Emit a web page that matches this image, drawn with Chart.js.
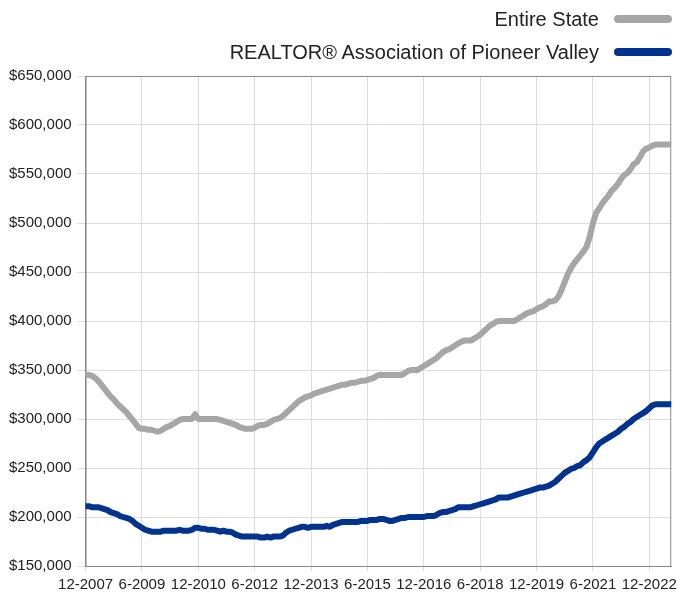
<!DOCTYPE html>
<html>
<head>
<meta charset="utf-8">
<script src="https://cdn.jsdelivr.net/npm/chart.js@4.4.0/dist/chart.umd.min.js"></script>
<style>
  body { margin: 0; background: #fff; }
  #wrap { position: relative; width: 677px; height: 592px; overflow: hidden; }
  #box { position: absolute; left: 0; top: 0; width: 677px; height: 599px; }
  .legend-row {
    position: absolute; right: 5px; height: 24px;
    display: flex; align-items: center;
    font: 20px "Helvetica Neue", Arial, "Liberation Sans", sans-serif; color: #222;
  }
  .legend-row .swatch {
    display: inline-block; width: 58px; height: 8px; border-radius: 4px; margin-left: 15px;
  }
</style>
</head>
<body>
<div id="wrap">
  <div id="box"><canvas id="median_chart"></canvas></div>
  <div class="legend-row" style="top:7px"><span>Entire State</span><span class="swatch" style="background:#a6a6a6"></span></div>
  <div class="legend-row" style="top:40px"><span>REALTOR® Association of Pioneer Valley</span><span class="swatch" style="background:#00338d"></span></div>
</div>
<script>
"use strict";
/* rolling median price chart, values in thousands of dollars, monthly from 12-2007 */

var startMonth = 12;
var startYear = 2007;
var monthCount = 188;

var tickLabels = ["12-2007", "6-2009", "12-2010", "6-2012", "12-2013", "6-2015",
  "12-2016", "6-2018", "12-2019", "6-2021", "12-2022"];

var stateValues = [
  345,
  345, 344, 342, 339, 335, 331, 327, 323, 320, 316, 313, 310, // 2008
  307, 303, 299, 295, 291, 290, 290, 289, 289, 288, 287, 288, // 2009
  290, 292, 293, 295, 297, 299, 300, 300, 300, 300, 305, 300, // 2010
  300, 300, 300, 300, 300, 300, 299, 298, 297, 296, 295, 294, // 2011
  292, 291, 290, 290, 290, 291, 293, 294, 294, 295, 297, 299, // 2012
  300, 301, 303, 306, 309, 312, 315, 318, 320, 322, 323, 324, // 2013
  326, 327, 328, 329, 330, 331, 332, 333, 334, 335, 335, 336, // 2014
  337, 337, 338, 339, 339, 340, 341, 342, 344, 345, 345, 345, // 2015
  345, 345, 345, 345, 345, 347, 349, 350, 350, 350, 352, 354, // 2016
  356, 358, 360, 362, 365, 368, 370, 371, 373, 375, 377, 379, // 2017
  380, 380, 380, 382, 384, 386, 389, 392, 395, 397, 399, 400, // 2018
  400, 400, 400, 400, 400, 402, 404, 406, 408, 409, 410, 412, // 2019
  414, 415, 417, 420, 420, 421, 425, 432, 440, 448, 454, 459, // 2020
  463, 467, 471, 476, 486, 500, 510, 515, 520, 524, 528, 533, // 2021
  536, 540, 545, 549, 551, 555, 560, 562, 567, 573, 576, 577, // 2022
  579, 580, 580, 580, 580, 580, 580                           // 2023
];

var valleyValues = [
  211,
  211, 210, 210, 210, 209, 208, 207, 205, 204, 203, 201, 200, // 2008
  199, 198, 196, 193, 191, 189, 187, 186, 185, 185, 185, 185, // 2009
  186, 186, 186, 186, 186, 187, 186, 186, 186, 187, 189, 189, // 2010
  188, 188, 187, 187, 187, 186, 185, 186, 185, 185, 184, 182, // 2011
  181, 180, 180, 180, 180, 180, 180, 179, 179, 180, 179, 180, // 2012
  180, 180, 181, 184, 186, 187, 188, 189, 190, 190, 189, 190, // 2013
  190, 190, 190, 190, 191, 190, 192, 193, 194, 195, 195, 195, // 2014
  195, 195, 195, 196, 196, 196, 197, 197, 197, 198, 198, 197, // 2015
  196, 196, 197, 198, 199, 199, 200, 200, 200, 200, 200, 200, // 2016
  201, 201, 201, 202, 204, 205, 205, 206, 207, 208, 210, 210, // 2017
  210, 210, 210, 211, 212, 213, 214, 215, 216, 217, 218, 220, // 2018
  220, 220, 220, 221, 222, 223, 224, 225, 226, 227, 228, 229, // 2019
  230, 230, 231, 232, 234, 236, 239, 242, 245, 247, 249, 250, // 2020
  252, 253, 256, 258, 261, 266, 271, 275, 277, 279, 281, 283, // 2021
  285, 287, 290, 292, 295, 297, 300, 302, 304, 306, 308, 311, // 2022
  314, 315, 315, 315, 315, 315, 315                           // 2023
];

var months = [];
for (var i = 0; i < monthCount; i++) {
  var mm = ((startMonth - 1 + i) % 12) + 1;
  var yy = startYear + Math.floor((startMonth - 1 + i) / 12);
  months.push(mm + "-" + yy);
}

function toPoints(values) {
  return values.map(function (v, i) {
    return { x: i, y: v };
  });
}

var tickIndex = tickLabels.map(function (t) {
  return months.indexOf(t);
});

// box round the plot area (top + right edges are drawn darker in the original)
var framePlugin = {
  id: "frame",
  beforeDatasetsDraw: function (chart) {
    var a = chart.chartArea;
    var ctx = chart.ctx;
    ctx.save();
    ctx.strokeStyle = "#8a8a8a";
    ctx.lineWidth = 1;
    ctx.strokeRect(a.left + 0.5, a.top + 0.5, a.right - a.left - 1, a.bottom - a.top);
    ctx.restore();
  },
};

var fontFamily = "'Helvetica Neue', Arial, 'Liberation Sans', sans-serif";
var yFont = { family: fontFamily, size: 15 };
// tall line height pushes the month labels down without widening the right padding
var xFont = { family: fontFamily, size: 15, lineHeight: "28px" };

new Chart("median_chart", {
  type: "line",
  data: {
    datasets: [
      {
        label: "Entire State",
        data: toPoints(stateValues),
        borderColor: "#a6a6a6",
        backgroundColor: "#a6a6a6",
        borderWidth: 6,
        pointRadius: 0,
        borderJoinStyle: "round",
        borderCapStyle: "round",
      },
      {
        label: "REALTOR® Association of Pioneer Valley",
        data: toPoints(valleyValues),
        borderColor: "#00338d",
        backgroundColor: "#00338d",
        borderWidth: 6,
        pointRadius: 0,
        borderJoinStyle: "round",
        borderCapStyle: "round",
      },
    ],
  },
  options: {
    responsive: true,
    maintainAspectRatio: false,
    animation: false,
    layout: {
      padding: { top: 76, right: 5, bottom: 0, left: 3 },
    },
    plugins: {
      legend: { display: false },
      tooltip: { enabled: false },
    },
    scales: {
      x: {
        type: "linear",
        min: 0,
        max: monthCount - 1,
        afterBuildTicks: function (axis) {
          axis.ticks = tickIndex.map(function (v) {
            return { value: v };
          });
        },
        ticks: {
          autoSkip: false,
          maxRotation: 0,
          minRotation: 0,
          padding: 0,
          color: "#222",
          font: xFont,
          callback: function (value) {
            return months[value];
          },
        },
        grid: {
          color: "#dddddd",
          tickLength: 5,
        },
        border: { color: "#8a8a8a" },
      },
      y: {
        min: 150,
        max: 650,
        ticks: {
          stepSize: 50,
          padding: 6,
          color: "#222",
          font: yFont,
          callback: function (value) {
            return "$" + (value * 1000).toLocaleString("en-US");
          },
        },
        grid: {
          color: "#dddddd",
          tickLength: 8,
        },
        border: { color: "#8a8a8a" },
      },
    },
  },
  plugins: [framePlugin],
});
</script>
</body>
</html>
